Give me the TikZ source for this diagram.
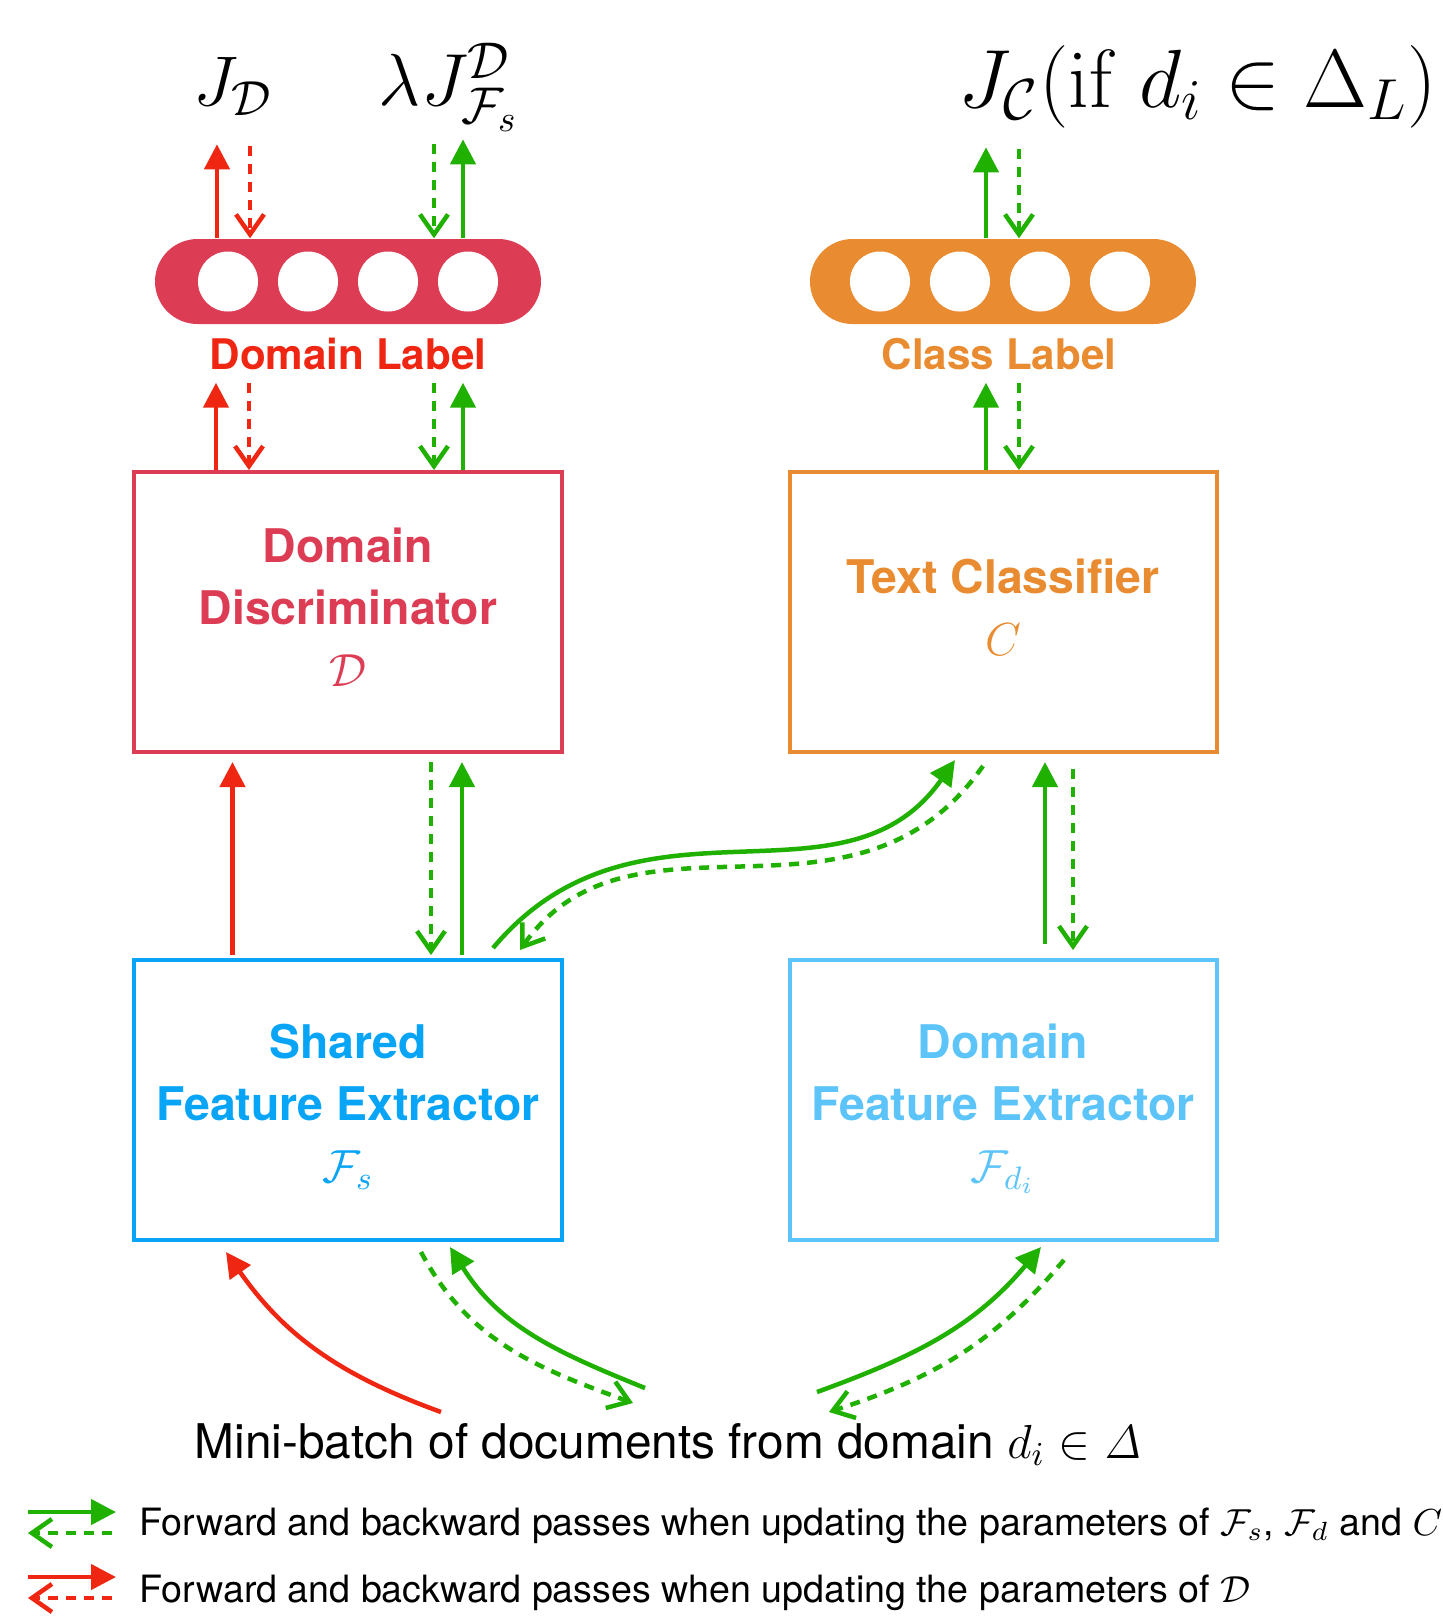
\RequirePackage{fix-cm}
\documentclass[tikz,border=0pt]{standalone}
\usepackage[no-math]{fontspec}
\setmainfont{TeX Gyre Heros}
\usetikzlibrary{arrows.meta}
\definecolor{manCrimson}{RGB}{220,61,85}
\definecolor{manRed}{RGB}{238,38,18}
\definecolor{manOrange}{RGB}{233,139,48}
\definecolor{manGreen}{RGB}{32,176,0}
\definecolor{manBlue}{RGB}{8,164,246}
\definecolor{manLightBlue}{RGB}{92,196,249}

\begin{document}
\begin{tikzpicture}
    \useasboundingbox (0,0) rectangle (14.42,-16.18);
    % Define styles
    \tikzstyle{block} = [rectangle, draw, line width=0.04cm, minimum width=4.27cm, minimum height=2.80cm, align=center, font=\fontsize{13.2}{17.6}\selectfont\bfseries]
    \tikzstyle{pill} = [rectangle, rounded corners=0.425cm, minimum width=3.86cm, minimum height=0.85cm]
    \tikzstyle{unit} = [circle, fill=white, minimum size=0.6cm, inner sep=0pt]
    \tikzstyle{tag} = [inner sep=0pt, font=\fontsize{12}{14}\selectfont\bfseries]
    \tikzstyle{loss} = [inner sep=0pt, anchor=base, font=\fontsize{20}{24}\selectfont]
    \tikzstyle{legend} = [inner sep=0pt, anchor=base west, font=\fontsize{10.7}{13}\selectfont]
    \tikzstyle{fwd} = [line width=0.045cm, manGreen, -{Triangle[length=0.25cm,width=0.25cm]}]
    \tikzstyle{bwd} = [line width=0.045cm, manGreen, dash pattern=on 0.1cm off 0.08cm, -{Straight Barb[length=0.2cm,width=0.28cm]}]

    % Boxes
    \node (disc) [block, draw=manCrimson, text=manCrimson, text depth=0.1cm] at (3.48,-6.12) {Domain\\Discriminator\\$\mathcal{D}$};
    \node (clf) [block, draw=manOrange, text=manOrange, text depth=0.1cm] at (10.03,-6.12) {Text Classifier\\$C$};
    \node (shared) [block, draw=manBlue, text=manBlue] at (3.48,-11.00) {\rule{0pt}{13.8pt}Shared\\Feature Extractor\\$\mathcal{F}_s$};
    \node (domfe) [block, draw=manLightBlue, text=manLightBlue] at (10.03,-11.00) {\rule{0pt}{15pt}Domain\\Feature Extractor\\$\mathcal{F}_{d_i}$};

    % Output layers
    \node (dlab) [pill, fill=manCrimson] at (3.48,-2.815) {};
    \node (d1) [unit] at (2.28,-2.815) {};
    \node (d2) [unit] at (3.08,-2.815) {};
    \node (d3) [unit] at (3.88,-2.815) {};
    \node (d4) [unit] at (4.68,-2.815) {};
    \node (clab) [pill, fill=manOrange] at (10.03,-2.815) {};
    \node (c1) [unit] at (8.80,-2.815) {};
    \node (c2) [unit] at (9.60,-2.815) {};
    \node (c3) [unit] at (10.40,-2.815) {};
    \node (c4) [unit] at (11.20,-2.815) {};
    \node (dtxt) [tag, text=manRed] at (3.48,-3.54) {Domain Label};
    \node (ctxt) [tag, text=manOrange] at (9.99,-3.54) {Class Label};

    % Losses
    \node (jd) [loss] at (2.33,-1.05) {$J_{\mathcal{D}}$};
    \node (jfs) [loss, font=\fontsize{21}{25}\selectfont] at (4.49,-1.05) {$\lambda J_{\mathcal{F}_s}^{\mathcal{D}}$};
    \node (jc) [loss, font=\fontsize{23.5}{28}\selectfont] at (11.98,-1.07) {$J_{\mathcal{C}}(\mathrm{if}\ d_i \in \Delta_L)$};

    % Input and legend
    \node (batch) [inner sep=0pt, anchor=base west, font=\fontsize{13.6}{16}\selectfont] at (1.94,-14.58) {Mini-batch of documents from domain $d_i \in \mathit{\Delta}$};
    \node (leg1) [legend] at (1.39,-15.35) {Forward and backward passes when updating the parameters of $\mathcal{F}_s$, $\mathcal{F}_d$ and $C$};
    \node (leg2) [legend] at (1.39,-16.02) {Forward and backward passes when updating the parameters of $\mathcal{D}$};
    \coordinate (bRed) at (4.41,-14.12);
    \coordinate (bG1) at (6.45,-13.88);
    \coordinate (bG2) at (6.33,-14.03);
    \coordinate (bG3) at (8.17,-13.92);
    \coordinate (bG4) at (8.29,-14.12);
    \coordinate (lg1a) at (0.28,-15.12);
    \coordinate (lg1b) at (1.16,-15.12);
    \coordinate (lg2a) at (1.12,-15.33);
    \coordinate (lg2b) at (0.28,-15.33);
    \coordinate (lg3a) at (0.28,-15.77);
    \coordinate (lg3b) at (1.16,-15.77);
    \coordinate (lg4a) at (1.12,-15.98);
    \coordinate (lg4b) at (0.28,-15.98);

    % Domain side
    \draw [fwd, manRed] ([xshift=-1.31cm]dlab.north) -- ([xshift=-1.31cm,yshift=0.94cm]dlab.north);
    \draw [bwd, manRed] ([xshift=-0.98cm,yshift=0.92cm]dlab.north) -- ([xshift=-0.98cm]dlab.north);
    \draw [bwd] ([xshift=0.86cm,yshift=0.94cm]dlab.north) -- ([xshift=0.86cm]dlab.north);
    \draw [fwd] ([xshift=1.15cm]dlab.north) -- ([xshift=1.15cm,yshift=0.99cm]dlab.north);
    \draw [fwd, manRed] ([xshift=-1.32cm]disc.north) -- ([xshift=-1.32cm,yshift=-0.58cm]dlab.south);
    \draw [bwd, manRed] ([xshift=-0.99cm,yshift=-0.58cm]dlab.south) -- ([xshift=-0.99cm]disc.north);
    \draw [bwd] ([xshift=0.86cm,yshift=-0.58cm]dlab.south) -- ([xshift=0.86cm]disc.north);
    \draw [fwd] ([xshift=1.15cm]disc.north) -- ([xshift=1.15cm,yshift=-0.58cm]dlab.south);
    \draw [fwd, manRed] ([xshift=-1.155cm,yshift=0.03cm]shared.north) -- ([xshift=-1.155cm,yshift=-0.08cm]disc.south);
    \draw [bwd] ([xshift=0.83cm,yshift=-0.08cm]disc.south) -- ([xshift=0.83cm,yshift=0.03cm]shared.north);
    \draw [fwd] ([xshift=1.14cm,yshift=0.03cm]shared.north) -- ([xshift=1.14cm,yshift=-0.08cm]disc.south);

    % Class side
    \draw [fwd] ([xshift=-0.17cm]clab.north) -- ([xshift=-0.17cm,yshift=0.91cm]clab.north);
    \draw [bwd] ([xshift=0.16cm,yshift=0.89cm]clab.north) -- ([xshift=0.16cm]clab.north);
    \draw [fwd] ([xshift=-0.17cm]clf.north) -- ([xshift=-0.17cm,yshift=-0.58cm]clab.south);
    \draw [bwd] ([xshift=0.16cm,yshift=-0.58cm]clab.south) -- ([xshift=0.16cm]clf.north);
    \draw [fwd] ([xshift=0.42cm,yshift=0.14cm]domfe.north) -- ([xshift=0.42cm,yshift=-0.08cm]clf.south);
    \draw [bwd] ([xshift=0.70cm,yshift=-0.15cm]clf.south) -- ([xshift=0.70cm,yshift=0.08cm]domfe.north);
    \draw [fwd] ([xshift=1.45cm,yshift=0.10cm]shared.north) to[out=50, in=235, out looseness=1.15] ([xshift=-0.48cm,yshift=-0.06cm]clf.south);
    \draw [bwd] ([xshift=-0.20cm,yshift=-0.12cm]clf.south) to[out=235, in=55, out looseness=1.15] ([xshift=1.72cm,yshift=0.08cm]shared.north);

    % From the mini-batch
    \draw [fwd, manRed] (bRed) to[out=160, in=-55] ([xshift=-1.22cm,yshift=-0.10cm]shared.south);
    \draw [fwd] (bG1) to[out=158, in=-58] ([xshift=1.02cm,yshift=-0.05cm]shared.south);
    \draw [bwd] ([xshift=0.73cm,yshift=-0.10cm]shared.south) to[out=-62, in=160] (bG2);
    \draw [fwd] (bG3) to[out=20, in=-130] ([xshift=0.38cm,yshift=-0.05cm]domfe.south);
    \draw [bwd] ([xshift=0.61cm,yshift=-0.18cm]domfe.south) to[out=230, in=18] (bG4);

    % Legend arrows
    \draw [fwd] (lg1a) -- (lg1b);
    \draw [bwd] (lg2a) -- (lg2b);
    \draw [fwd, manRed] (lg3a) -- (lg3b);
    \draw [bwd, manRed] (lg4a) -- (lg4b);
\end{tikzpicture}
\end{document}
